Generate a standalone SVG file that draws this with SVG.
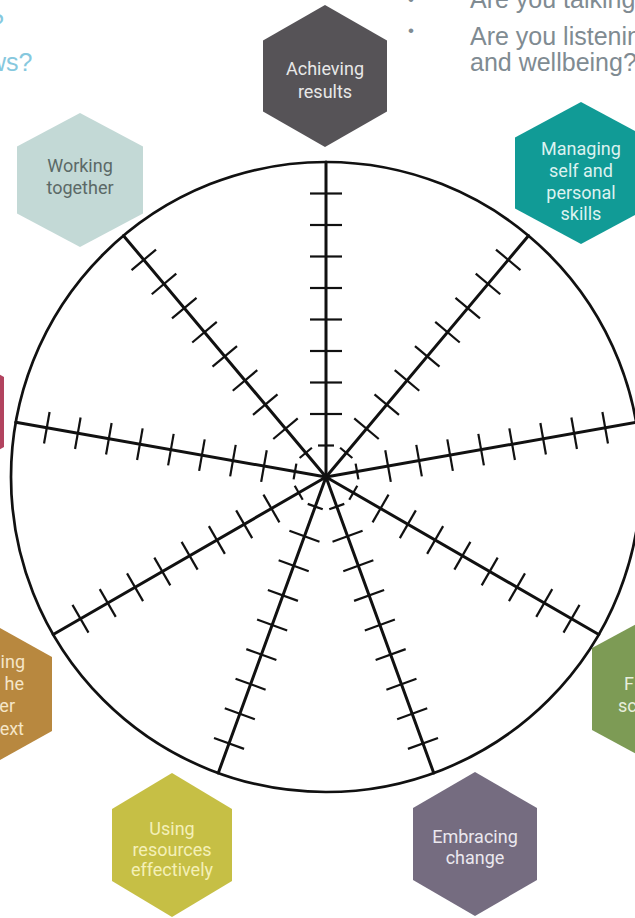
<svg xmlns="http://www.w3.org/2000/svg" xmlns:xlink="http://www.w3.org/1999/xlink" width="635" height="918" viewBox="0 0 635 918">
<style>
.hx{stroke:none}
.ht{font-family:Roboto,"Noto Sans",sans-serif;font-size:18px;text-anchor:middle}
.sp{stroke:#111;stroke-width:3;stroke-linecap:round;fill:none}
.tk{stroke:#111;stroke-width:2.2;fill:none}
.gray{font-family:"Liberation Sans",Arial,sans-serif;font-size:25px;fill:#808b92}
.blue{font-family:"Liberation Sans",Arial,sans-serif;font-size:25px;fill:#86c8de}
.bul{font-family:"Liberation Sans",Arial,sans-serif;font-size:17px;fill:#808b92}
</style>
<defs>
<g id="spoke">
<line class="sp" x1="0" y1="0" x2="0" y2="-315"/>
<line class="tk" x1="-8" y1="-31.5" x2="8" y2="-31.5"/>
<line class="tk" x1="-16" y1="-63" x2="16" y2="-63"/>
<line class="tk" x1="-16" y1="-94.5" x2="16" y2="-94.5"/>
<line class="tk" x1="-16" y1="-126" x2="16" y2="-126"/>
<line class="tk" x1="-16" y1="-157.5" x2="16" y2="-157.5"/>
<line class="tk" x1="-16" y1="-189" x2="16" y2="-189"/>
<line class="tk" x1="-16" y1="-220.5" x2="16" y2="-220.5"/>
<line class="tk" x1="-16" y1="-252" x2="16" y2="-252"/>
<line class="tk" x1="-16" y1="-283.5" x2="16" y2="-283.5"/>
</g>
</defs>
<rect width="635" height="918" fill="#fff"/>

<g id="top-text">
<text class="blue" x="-10" y="32">?</text>
<text class="blue" x="-12" y="71">ws?</text>
<text class="bul" x="408" y="5">•</text>
<text class="gray" x="470" y="8">Are you talking</text>
<text class="bul" x="408" y="36">•</text>
<text class="gray" x="470" y="45">Are you listening</text>
<text class="gray" x="470" y="71">and wellbeing?</text>
</g>

<g id="wheel">
<circle cx="326" cy="477" r="315" fill="none" stroke="#111" stroke-width="2.7"/>
</g>
<g id="connectors">
<use xlink:href="#spoke" transform="translate(326,477) rotate(0)"/>
<use xlink:href="#spoke" transform="translate(326,477) rotate(40)"/>
<use xlink:href="#spoke" transform="translate(326,477) rotate(80)"/>
<use xlink:href="#spoke" transform="translate(326,477) rotate(120)"/>
<use xlink:href="#spoke" transform="translate(326,477) rotate(160)"/>
<use xlink:href="#spoke" transform="translate(326,477) rotate(200)"/>
<use xlink:href="#spoke" transform="translate(326,477) rotate(240)"/>
<use xlink:href="#spoke" transform="translate(326,477) rotate(280)"/>
<use xlink:href="#spoke" transform="translate(326,477) rotate(320)"/>
</g>

<g id="achieving">
<polygon class="hx" fill="#565357" points="325,5 387,40.5 387,111.5 325,147 263,111.5 263,40.5"/>
<text class="ht" fill="#e8e8e8" x="325" y="75">Achieving</text>
<text class="ht" fill="#e8e8e8" x="325" y="98">results</text>
</g>
<g id="managing">
<polygon class="hx" fill="#119b96" points="581,102 647,137.5 647,208.5 581,244 515,208.5 515,137.5"/>
<text class="ht" fill="#dcf2f0" x="581" y="155">Managing</text>
<text class="ht" fill="#dcf2f0" x="581" y="177">self and</text>
<text class="ht" fill="#dcf2f0" x="581" y="199">personal</text>
<text class="ht" fill="#dcf2f0" x="581" y="220">skills</text>
</g>
<g id="working">
<polygon class="hx" fill="#c3d9d6" points="80,113 143,146.5 143,213.5 80,247 17,213.5 17,146.5"/>
<rect x="0" y="100" width="59" height="21" fill="#fff"/>
<text class="ht" fill="#5b6967" x="80" y="172">Working</text>
<text class="ht" fill="#5b6967" x="80" y="194">together</text>
</g>
<g id="left-maroon">
<polygon class="hx" fill="#b2435f" points="-59,342 4,377 4,447 -59,482 -122,447 -122,377"/>
</g>
<g id="wider-context">
<polygon class="hx" fill="#b8883f" points="-11,622 52,657 52,731 -11,766 -74,731 -74,657"/>
<text class="ht" fill="#f5e6c8" style="text-anchor:end" x="25" y="668">ing</text>
<text class="ht" fill="#f5e6c8" style="text-anchor:end" x="24" y="690">he</text>
<text class="ht" fill="#f5e6c8" style="text-anchor:end" x="15" y="712">er</text>
<text class="ht" fill="#f5e6c8" style="text-anchor:end" x="24" y="735">ext</text>
</g>
<g id="right-green">
<polygon class="hx" fill="#7d9b55" points="655,614 718,648 718,730 655,764 592,730 592,648"/>
<text class="ht" fill="#e8eedc" style="text-anchor:start" x="624" y="690">F</text>
<text class="ht" fill="#e8eedc" style="text-anchor:start" x="618" y="712">sc</text>
</g>
<g id="using">
<polygon class="hx" fill="#c6bf45" points="172,773 232,809 232,881 172,917 112,881 112,809"/>
<text class="ht" fill="#f4f0b8" x="172" y="835">Using</text>
<text class="ht" fill="#f4f0b8" x="172" y="856">resources</text>
<text class="ht" fill="#f4f0b8" x="172" y="876">effectively</text>
</g>
<g id="embracing">
<polygon class="hx" fill="#756c80" points="475,772 537,808 537,880 475,916 413,880 413,808"/>
<text class="ht" fill="#ebe8ef" x="475" y="843">Embracing</text>
<text class="ht" fill="#ebe8ef" x="475" y="864">change</text>
</g>
</svg>
